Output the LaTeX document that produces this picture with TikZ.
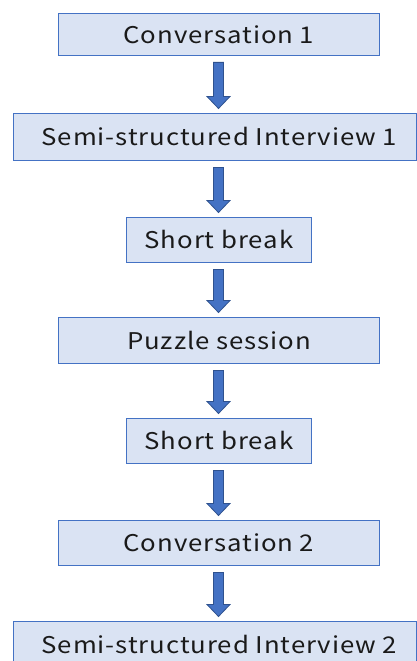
\documentclass[tikz,border=0pt]{standalone}
\usepackage{fontspec}
\setmainfont[LetterSpace=4,FakeStretch=1.12]{Noto Sans CJK JP}
\usetikzlibrary{calc}
\definecolor{boxfill}{HTML}{DAE3F3}
\definecolor{boxline}{HTML}{4472C4}
\definecolor{arrfill}{HTML}{4472C4}
\definecolor{arrline}{HTML}{2F528F}
\definecolor{txt}{HTML}{1A1A1A}
\tikzset{
  flowbox/.style={draw=boxline, fill=boxfill, line width=0.9pt, inner sep=0pt,
    text=txt, font=\fontsize{23}{27}\selectfont, anchor=north west},
  arr/.style={draw=arrline, fill=arrfill, line width=0.8pt, line join=miter},
}
\newcommand{\flowarrow}[2]{%
  \coordinate (atop) at ($(#1.south -| ax)+(0,6.5)$);
  \coordinate (atip) at ($(#2.north -| ax)+(0,-4.5)$);
  \draw[arr] ($(atop)+(-5,0)$) -- ($(atop)+(5,0)$) -- ($(atip)+(5,-12)$)
    -- ($(atip)+(11.5,-12)$) -- (atip) -- ($(atip)+(-11.5,-12)$)
    -- ($(atip)+(-5,-12)$) -- cycle;}
\begin{document}
\begin{tikzpicture}[x=1pt,y=-1pt]
\useasboundingbox[fill=white] (0,0) rectangle (416,661);
\coordinate (ax) at (218.5,0);
\node[flowbox, minimum width=321, minimum height=42] (c1) at (58,13) {Conversation 1};
\node[flowbox, minimum width=403, minimum height=47] (s1) at (13,113) {\hspace*{9pt}Semi-structured Interview 1};
\node[flowbox, minimum width=185, minimum height=45] (b1) at (126,217) {Short break};
\node[flowbox, minimum width=321, minimum height=46] (p) at (58,317) {Puzzle session};
\node[flowbox, minimum width=185, minimum height=45] (b2) at (126,418) {Short break};
\node[flowbox, minimum width=321, minimum height=45] (c2) at (58,520) {Conversation 2};
\node[flowbox, minimum width=403, minimum height=47] (s2) at (13,621) {\hspace*{9pt}Semi-structured Interview 2};
\flowarrow{c1}{s1}
\flowarrow{s1}{b1}
\flowarrow{b1}{p}
\flowarrow{p}{b2}
\flowarrow{b2}{c2}
\flowarrow{c2}{s2}
\end{tikzpicture}
\end{document}
